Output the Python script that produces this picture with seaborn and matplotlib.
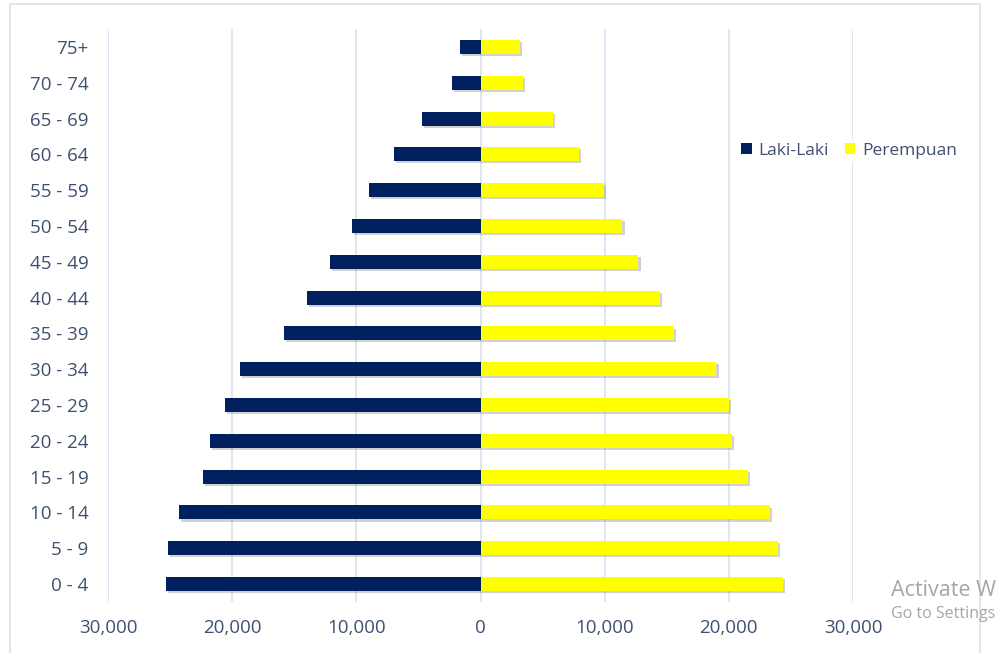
import matplotlib
matplotlib.use("Agg")
import matplotlib.pyplot as plt
import matplotlib.patheffects as pe
from matplotlib.patches import Patch, Rectangle
from matplotlib.ticker import FuncFormatter, FixedLocator
import seaborn as sns
import pandas as pd

age_groups = ["75+", "70 - 74", "65 - 69", "60 - 64", "55 - 59", "50 - 54", "45 - 49",
              "40 - 44", "35 - 39", "30 - 34", "25 - 29", "20 - 24", "15 - 19",
              "10 - 14", "5 - 9", "0 - 4"]
laki_laki = [1670, 2335, 4750, 6980, 8990, 10360, 12160, 14010, 15860, 19400,
             20610, 21790, 22380, 24290, 25180, 25360]
perempuan = [3200, 3435, 5800, 7915, 9930, 11430, 12720, 14440, 15560, 19000,
             19990, 20260, 21550, 23320, 23970, 24340]
series_names = ["Laki-Laki", "Perempuan"]
x_ticks = [-30000, -20000, -10000, 0, 10000, 20000, 30000]

navy = "#002060"
yellow = "#FFFF00"
text_col = "#3F5070"
grid_col = "#D9E2F1"

df = pd.DataFrame({
    "Umur": age_groups * 2,
    "Jumlah": [-v for v in laki_laki] + perempuan,
    "Jenis": [series_names[0]] * len(age_groups) + [series_names[1]] * len(age_groups),
})

sns.set_theme(style="white")
plt.rcParams["font.family"] = ["Open Sans", "DejaVu Sans"]

fig = plt.figure(figsize=(9.97, 6.53), dpi=100)
ax = fig.add_axes([108 / 997, 51 / 653, 745 / 997, 573 / 653])

sns.barplot(data=df, y="Umur", x="Jumlah", hue="Jenis", order=age_groups,
            hue_order=series_names, palette=[navy, yellow], dodge=False,
            width=0.39, orient="h", ax=ax, legend=False, saturation=1)

shadow = [pe.SimplePatchShadow(offset=(1.5, -1.5), shadow_rgbFace="#808080", alpha=0.35), pe.Normal()]
for p in ax.patches:
    p.set_path_effects(shadow)
    p.set_linewidth(0)

ax.set_xlim(-30000, 30000)
ax.set_ylim(len(age_groups) - 0.5, -0.5)
ax.xaxis.set_major_locator(FixedLocator(x_ticks))
ax.xaxis.set_major_formatter(FuncFormatter(lambda v, _: f"{abs(int(v)):,}"))
ax.grid(axis="x", color=grid_col, linewidth=1.2)
ax.set_axisbelow(True)
for s in ax.spines.values():
    s.set_visible(False)
ax.set_xlabel("")
ax.set_ylabel("")
ax.tick_params(axis="both", length=0, labelsize=13.5, labelcolor=text_col)
ax.tick_params(axis="y", pad=14)
ax.tick_params(axis="x", pad=12)

handles = [Patch(facecolor=navy, edgecolor="none", label=series_names[0]),
           Patch(facecolor=yellow, edgecolor="none", label=series_names[1])]
leg = fig.legend(handles=handles, loc="center left", bbox_to_anchor=(729 / 997, 1 - 151 / 653),
                 ncol=2, frameon=True, fontsize=12.5, handlelength=0.6, handleheight=0.6,
                 handletextpad=0.4, columnspacing=0.9, borderpad=0.2)
leg.get_frame().set_facecolor("white")
leg.get_frame().set_edgecolor("none")
for t in leg.get_texts():
    t.set_color(text_col)

fig.patches.append(Rectangle((9.5 / 997, -0.02), (980 - 9.5) / 997, 1.02 - 4.5 / 653,
                             transform=fig.transFigure, fill=False,
                             edgecolor=grid_col, linewidth=1.2))

fig.text(891 / 997, 1 - 590 / 653, "Activate W", fontsize=15.5, color="#A6A6A6",
         va="center", ha="left", family=["Open Sans", "DejaVu Sans"])
fig.text(891 / 997, 1 - 614 / 653, "Go to Settings", fontsize=11.5, color="#A6A6A6",
         va="center", ha="left", family=["Open Sans", "DejaVu Sans"])

fig.savefig("out.png", dpi=100)
